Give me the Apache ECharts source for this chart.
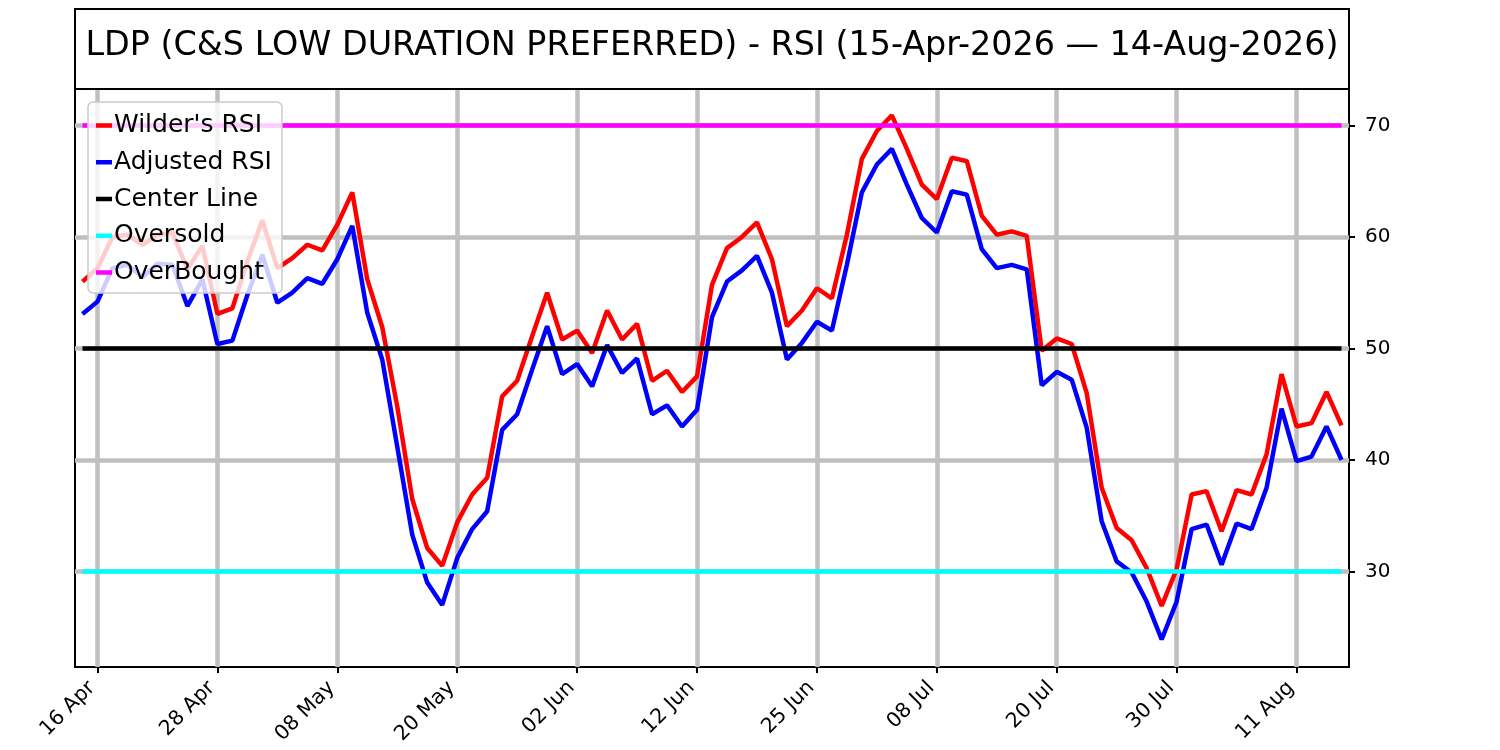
<!DOCTYPE html>
<html>
<head>
<meta charset="utf-8">
<script src="https://cdn.jsdelivr.net/npm/echarts@6/dist/echarts.min.js"></script>
<style>
html,body{margin:0;padding:0;background:#fff;}
#chart{width:1500px;height:750px;}
</style>
</head>
<body>
<div id="chart"></div>
<script>
const titleText = "LDP (C&S LOW DURATION PREFERRED) - RSI (15-Apr-2026 \u2014 14-Aug-2026)";

const dates = [
  "15 Apr","16 Apr","17 Apr","20 Apr","21 Apr","22 Apr","23 Apr","24 Apr","27 Apr","28 Apr",
  "29 Apr","30 Apr","01 May","04 May","05 May","06 May","07 May","08 May","11 May","12 May",
  "13 May","14 May","15 May","18 May","19 May","20 May","21 May","22 May","26 May","27 May",
  "28 May","29 May","01 Jun","02 Jun","03 Jun","04 Jun","05 Jun","08 Jun","09 Jun","10 Jun",
  "11 Jun","12 Jun","15 Jun","16 Jun","17 Jun","18 Jun","22 Jun","23 Jun","24 Jun","25 Jun",
  "26 Jun","29 Jun","30 Jun","01 Jul","02 Jul","06 Jul","07 Jul","08 Jul","09 Jul","10 Jul",
  "13 Jul","14 Jul","15 Jul","16 Jul","17 Jul","20 Jul","21 Jul","22 Jul","23 Jul","24 Jul",
  "27 Jul","28 Jul","29 Jul","30 Jul","31 Jul","03 Aug","04 Aug","05 Aug","06 Aug","07 Aug",
  "10 Aug","11 Aug","12 Aug","13 Aug","14 Aug"
];

const wildersRSI = [
  56.0,57.2,60.0,60.2,59.3,60.2,60.4,57.1,59.2,53.1,
  53.6,57.8,61.5,57.2,58.1,59.3,58.8,61.1,64.0,56.2,
  51.9,44.8,36.5,32.1,30.5,34.4,36.9,38.4,45.7,47.1,
  51.1,55.0,50.8,51.6,49.6,53.4,50.8,52.2,47.1,48.0,
  46.1,47.5,55.7,59.0,60.0,61.3,58.0,52.0,53.4,55.4,
  54.5,60.2,67.0,69.5,70.9,67.9,64.7,63.4,67.1,66.8,
  61.9,60.2,60.5,60.1,49.8,50.9,50.4,46.0,37.5,33.9,
  32.8,30.3,26.9,30.2,36.9,37.2,33.6,37.3,36.9,40.5,
  47.7,43.0,43.3,46.1,43.1
];

const adjustedRSI = [
  53.1,54.2,57.2,57.5,56.4,57.6,57.5,53.8,56.2,50.4,
  50.7,54.8,58.4,54.1,55.0,56.3,55.8,58.0,61.0,53.2,
  49.0,41.2,33.3,29.0,27.0,31.2,33.8,35.4,42.7,44.1,
  48.1,52.0,47.7,48.6,46.6,50.3,47.8,49.1,44.1,44.9,
  43.0,44.5,52.8,56.0,57.0,58.3,55.0,49.0,50.5,52.4,
  51.6,57.5,64.0,66.5,67.9,64.7,61.7,60.4,64.1,63.8,
  58.9,57.2,57.5,57.1,46.7,47.9,47.2,42.9,34.5,30.9,
  29.9,27.3,23.9,27.3,33.8,34.2,30.6,34.3,33.8,37.5,
  44.6,39.9,40.3,43.0,40.0
];

const centerLevel = 50;
const oversoldLevel = 30;
const overboughtLevel = 70;

const xTickLabels = ["16 Apr","28 Apr","08 May","20 May","02 Jun","12 Jun","25 Jun","08 Jul","20 Jul","30 Jul","11 Aug"];
const yTickValues = [30, 40, 50, 60, 70];
const yMin = 21.43;
const yMax = 73.27;

const FONT = "DejaVu Sans";
const chart = echarts.init(document.getElementById('chart'), null, {width:1500, height:750});

const isTick = (idx) => xTickLabels.indexOf(dates[idx]) >= 0;
const LW = 4.5;

const option = {
  animation: false,
  backgroundColor: '#ffffff',
  textStyle: { fontFamily: FONT },
  title: {
    text: titleText,
    left: 712,
    textAlign: 'center',
    top: 30,
    padding: 0,
    textStyle: { fontFamily: FONT, fontSize: 33.4, fontWeight: 'normal', color: '#000' }
  },
  graphic: [
    {
      type: 'rect',
      shape: { x: 75, y: 9, width: 1274, height: 80 },
      style: { fill: 'none', stroke: '#000', lineWidth: 2 },
      silent: true,
      z: 10
    }
  ],
  legend: {
    orient: 'vertical',
    left: 88,
    top: 102,
    z: 50,
    data: ["Wilder's RSI", "Adjusted RSI", "Center Line", "Oversold", "OverBought"],
    itemWidth: 16,
    itemHeight: 4.5,
    itemGap: 11.75,
    padding: [11, 10, 8, 8],
    backgroundColor: 'rgba(255,255,255,0.8)',
    borderColor: '#cccccc',
    borderWidth: 1.5,
    borderRadius: 5,
    icon: 'rect',
    selectedMode: false,
    textStyle: { fontFamily: FONT, fontSize: 25, lineHeight: 25, color: '#000', padding: [0,0,0,-3] }
  },
  grid: {
    left: 75, right: 151, top: 89, bottom: 83,
    show: true, borderColor: '#000', borderWidth: 2, backgroundColor: 'transparent'
  },
  xAxis: {
    type: 'category',
    data: dates,
    boundaryGap: true,
    axisLine: { show: true, lineStyle: { color: '#000', width: 2 } },
    axisTick: { show: true, alignWithLabel: true, interval: (i) => isTick(i), length: 6, lineStyle: { color: '#000', width: 2 } },
    axisLabel: { show: true, interval: (i) => isTick(i), rotate: 45, margin: 12, padding: [0, 8, 0, 0], fontFamily: FONT, fontSize: 20.5, color: '#000' },
    splitLine: { show: false }
  },
  yAxis: {
    type: 'value',
    position: 'right',
    min: yMin,
    max: yMax,
    axisLine: { show: true, lineStyle: { color: '#000', width: 2 } },
    axisTick: { show: true, length: 6, customValues: yTickValues, lineStyle: { color: '#000', width: 2 } },
    axisLabel: { show: true, customValues: yTickValues, margin: 16, fontFamily: FONT, fontSize: 20, color: '#000' },
    splitLine: { show: false }
  },
  series: [
    {
      name: 'gridlines',
      type: 'line',
      data: [],
      z: 1,
      silent: true,
      markLine: {
        z: 1,
        silent: true,
        symbol: ['none', 'none'],
        label: { show: false },
        lineStyle: { color: '#bfbfbf', width: LW, type: 'solid' },
        emphasis: { disabled: true },
        data: xTickLabels.map(d => ({ xAxis: d })).concat(yTickValues.map(v => ({ yAxis: v })))
      }
    },
    {
      name: "Wilder's RSI", type: 'line', data: wildersRSI, z: 2,
      showSymbol: false, symbol: 'none', color: '#ff0000',
      lineStyle: { color: '#ff0000', width: LW }
    },
    {
      name: "Adjusted RSI", type: 'line', data: adjustedRSI, z: 3,
      showSymbol: false, symbol: 'none', color: '#0000ff',
      lineStyle: { color: '#0000ff', width: LW }
    },
    {
      name: "Center Line", type: 'line', data: dates.map(() => centerLevel), z: 4,
      showSymbol: false, symbol: 'none', color: '#000000',
      lineStyle: { color: '#000000', width: LW }
    },
    {
      name: "Oversold", type: 'line', data: dates.map(() => oversoldLevel), z: 5,
      showSymbol: false, symbol: 'none', color: '#00ffff',
      lineStyle: { color: '#00ffff', width: LW }
    },
    {
      name: "OverBought", type: 'line', data: dates.map(() => overboughtLevel), z: 6,
      showSymbol: false, symbol: 'none', color: '#ff00ff',
      lineStyle: { color: '#ff00ff', width: LW }
    }
  ]
};
chart.setOption(option);
</script>
</body>
</html>
